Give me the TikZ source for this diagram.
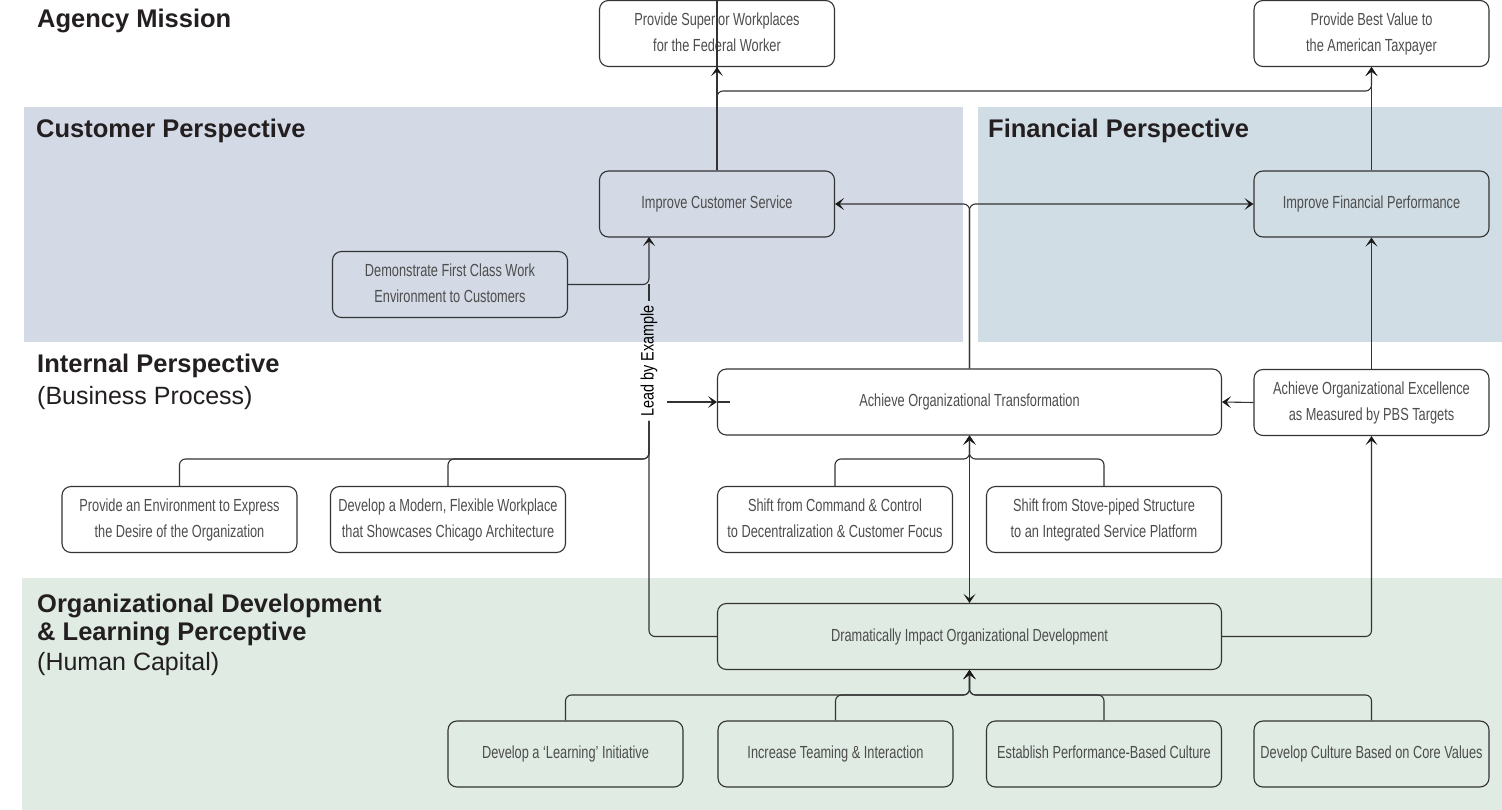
\documentclass[tikz,border=0pt]{standalone}
\usepackage{fontspec}
\setmainfont{Liberation Sans}
\newfontfamily\boxfont[FakeStretch=0.73]{Liberation Sans}
\newfontfamily\lbefont[FakeStretch=0.8]{Liberation Sans}
\usetikzlibrary{arrows.meta}
\definecolor{custbg}{HTML}{D3D9E5}
\definecolor{finbg}{HTML}{D1DDE5}
\definecolor{orgbg}{HTML}{DFEBE3}
\definecolor{linec}{HTML}{333333}
\definecolor{tipc}{HTML}{1A1A1A}
\definecolor{boxtext}{HTML}{4D4D4D}
\definecolor{headc}{HTML}{231F20}
\tikzset{
  box/.style={draw=linec, line width=1.1pt, rounded corners=9pt, minimum width=235pt,
    minimum height=66pt, inner sep=0pt, align=center, text=boxtext,
    font=\boxfont\fontsize{17.5}{26}\selectfont, execute at end node={\vphantom{g}}},
  widebox/.style={box, minimum width=504pt},
  head/.style={anchor=base west, inner sep=0pt, text=headc, font=\bfseries\fontsize{25.5}{28}\selectfont},
  subhead/.style={anchor=base west, inner sep=0pt, text=headc, font=\fontsize{25}{28}\selectfont},
  conn/.style={draw=linec, line width=1.1pt},
  tipA/.tip={Stealth[length=9pt,width=12pt,inset=4.5pt,color=tipc]},
  arr/.style={conn, -tipA},
  darr/.style={conn, tipA-tipA},
  rc/.style={rounded corners=6pt},
  lbestyle/.style={rotate=90, inner sep=4pt, text=black, font=\lbefont\fontsize{18}{20}\selectfont}
}
\begin{document}
\begin{tikzpicture}[x=1pt,y=-1pt]
\useasboundingbox (0,0) rectangle (1502,810);
% panels
\fill[custbg] (24,107) rectangle (963,342);
\fill[finbg] (978,107) rectangle (1502,342);
\fill[orgbg] (22,578) rectangle (1502,810);
% headings
\node[head] (hAM) at (37,28) {Agency Mission};
\node[head] (hCP) at (36,138) {Customer Perspective};
\node[head] (hFP) at (988,138) {Financial Perspective};
\node[head] (hIP) at (37,372) {Internal Perspective};
\node[subhead] (hBP) at (37,404) {(Business Process)};
\node[head] (hOD1) at (37,612) {Organizational Development};
\node[head] (hOD2) at (37,640) {\& Learning Perceptive};
\node[subhead] (hOD3) at (37,670) {(Human Capital)};
% boxes
\node[box] (sup) at (717,33.5) {Provide Superior Workplaces\\for the Federal Worker};
\node[box] (bv) at (1371.5,33.5) {Provide Best Value to\\the American Taxpayer};
\node[box] (ics) at (717,204) {Improve Customer Service};
\node[box] (ifp) at (1371.5,204) {Improve Financial Performance};
\node[box] (demo) at (450,284.5) {Demonstrate First Class Work\\Environment to Customers};
\node[widebox] (aot) at (969.5,402) {Achieve Organizational Transformation};
\node[box] (aoe) at (1371.5,402.5) {Achieve Organizational Excellence\\as Measured by PBS Targets};
\node[box] (sc) at (835,519.5) {Shift from Command \& Control\\to Decentralization \& Customer Focus};
\node[box] (ss) at (1104,519.5) {Shift from Stove-piped Structure\\to an Integrated Service Platform};
\node[box] (pe) at (179.5,519.5) {Provide an Environment to Express\\the Desire of the Organization};
\node[box] (dm) at (448,519.5) {Develop a Modern, Flexible Workplace\\that Showcases Chicago Architecture};
\node[widebox] (di) at (969.5,636.5) {Dramatically Impact Organizational Development};
\node[box] (dl) at (565.5,754) {Develop a ‘Learning’ Initiative};
\node[box] (it) at (835.5,754) {Increase Teaming \& Interaction};
\node[box] (ep) at (1104,754) {Establish Performance-Based Culture};
\node[box] (dc) at (1371.5,754) {Develop Culture Based on Core Values};
% lead by example label
\node[lbestyle] (lbe) at (649,361) {Lead by Example};
% coordinates
\coordinate (topbar) at (0,91);
\coordinate (icsb) at (649,237);
\coordinate (lba) at (667,402);
\coordinate (jl) at (649,459);
\coordinate (jm) at (969.5,459);
\coordinate (jb) at (969.5,695);
% connectors
\draw[conn] (ics.north) -- (sup.north);
\draw[arr] (ics.north) -- (sup.south);
\draw[arr, rc] (ics.north) -- (ics.north |- topbar) -- (bv.south |- topbar) -- (bv.south);
\draw[arr] (ifp.north) -- (bv.south);
\draw[arr, rc] (aot.north) |- (ics.east);
\draw[arr, rc] (aot.north) |- (ifp.west);
\draw[arr, rc] (demo.east) -| (icsb);
\draw[conn] (lbe.east) -- (lbe.east |- demo.east);
\draw[conn, rc] (di.west) -| (lbe.west);
\draw[conn, rc] (pe.north) |- (jl) -- (lbe.west);
\draw[conn, rc] (dm.north) |- (jl) -- (lbe.west);
\draw[arr] (lba) -- (aot.west);
\draw[conn] (aot.west) -- ++(13,0);
\draw[arr] (aoe.west) -- (aot.east);
\draw[arr] (aoe.north) -- (ifp.south);
\draw[arr, rc] (di.east) -| (aoe.south);
\draw[darr] (aot.south) -- (di.north);
\draw[arr, rc] (sc.north) |- (jm) -- (aot.south);
\draw[arr, rc] (ss.north) |- (jm) -- (aot.south);
\draw[arr, rc] (dl.north) |- (jb) -- (di.south);
\draw[arr, rc] (it.north) |- (jb) -- (di.south);
\draw[arr, rc] (ep.north) |- (jb) -- (di.south);
\draw[arr, rc] (dc.north) |- (jb) -- (di.south);
\end{tikzpicture}
\end{document}
